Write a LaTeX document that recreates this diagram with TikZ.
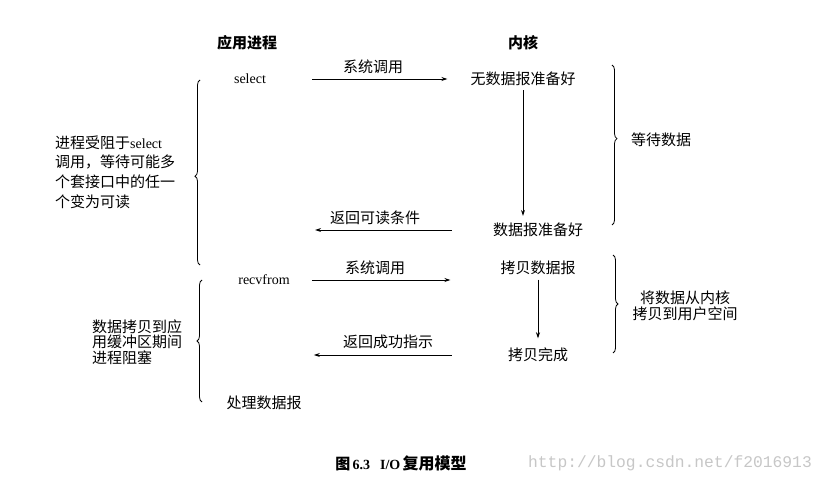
\documentclass[tikz,border=0pt]{standalone}
\usepackage{fontspec}
\setmainfont{Liberation Serif}
\setmonofont{Liberation Mono}
\newfontfamily\cjk{Noto Sans CJK SC}
\usetikzlibrary{arrows.meta,decorations.pathreplacing}
\begin{document}
\begin{tikzpicture}[x=1pt,y=-1pt,
  zh/.style={font=\cjk\fontsize{15}{18}\selectfont, inner sep=1pt},
  zhb/.style={font=\cjk\bfseries\fontsize{15}{18}\selectfont, inner sep=1pt},
  en/.style={font=\rmfamily\fontsize{14}{17}\selectfont, inner sep=1pt},
  arr/.style={line width=0.8pt, -{Stealth[length=6pt,width=4pt]}},
  brc/.style={line width=0.8pt, decorate, decoration={brace, amplitude=5pt}},
]
\useasboundingbox[fill=white] (0,0) rectangle (833,481);

% column titles
\node[zhb] (app) at (247,43) {应用进程};
\node[zhb] (kern) at (523,43) {内核};

% select phase
\node[en] (sel) at (250,79) {select};
\node[zh] (nodata) at (523,79) {无数据报准备好};
\node[zh] (sys1) at (373,67) {系统调用};
\node[zh] (ready) at (538,230) {数据报准备好};
\node[zh] (ret1) at (375,218) {返回可读条件};
\node[zh] (wait) at (661,140) {等待数据};

% recvfrom phase
\node[en] (recv) at (264,280) {recvfrom};
\node[zh] (sys2) at (375,268) {系统调用};
\node[zh] (copy) at (538,268) {拷贝数据报};
\node[zh] (done) at (538,355) {拷贝完成};
\node[zh] (ret2) at (388,342) {返回成功指示};
\node[zh] (proc) at (264,403) {处理数据报};
\node[zh, align=center, font=\cjk\fontsize{15}{15.5}\selectfont] (copyk) at (685,306) {将数据从内核\\拷贝到用户空间};

% left explanations
\node[zh, align=left, anchor=west, font=\cjk\fontsize{15}{19.7}\selectfont] (blk1) at (54,172)
  {进程受阻于{\rmfamily\fontsize{14}{19.7}\selectfont select}\\调用，等待可能多\\个套接口中的任一\\个变为可读};
\node[zh, align=left, anchor=west, font=\cjk\fontsize{15}{15.5}\selectfont] (blk2) at (91,342)
  {数据拷贝到应\\用缓冲区期间\\进程阻塞};

% arrows
\draw[arr, shorten <=45pt, shorten >=22pt] (sel.east) -- (sel.east -| nodata.west);
\draw[arr, shorten <=3pt, shorten >=6pt] (nodata.south) -- (nodata.south |- ready.north);
\draw[arr, shorten <=40pt, shorten >=48pt] (ready.west) -- (ready.west -| sel.east);
\draw[arr, shorten <=21pt, shorten >=49pt] (recv.east) -- (recv.east -| copy.west);
\draw[arr, shorten <=3.5pt, shorten >=8.5pt] (copy.south) -- (done.north);
\draw[arr, shorten <=55pt, shorten >=23pt] (done.west) -- (done.west -| recv.east);

% braces
\draw[brc, decoration={aspect=0.48}] (200,265) -- (200,80);
\draw[brc] (202,402) -- (202,280);
\draw[brc, decoration={aspect=0.46}] (612,65) -- (612,225);
\draw[brc] (613,255) -- (613,353);

% caption
\node[font=\bfseries\fontsize{14}{16}\selectfont, inner sep=1pt] (cap) at (401,463)
  {{\cjk\fontsize{15}{16}\selectfont 图}\,6.3\hspace{10pt}I/O\,{\cjk\fontsize{16}{16}\selectfont 复用模型}};
\node[font=\ttfamily\fontsize{16.3}{18}\selectfont, text=black!22, inner sep=1pt] (wm) at (670,463) {http://blog.csdn.net/f2016913};
\end{tikzpicture}
\end{document}
